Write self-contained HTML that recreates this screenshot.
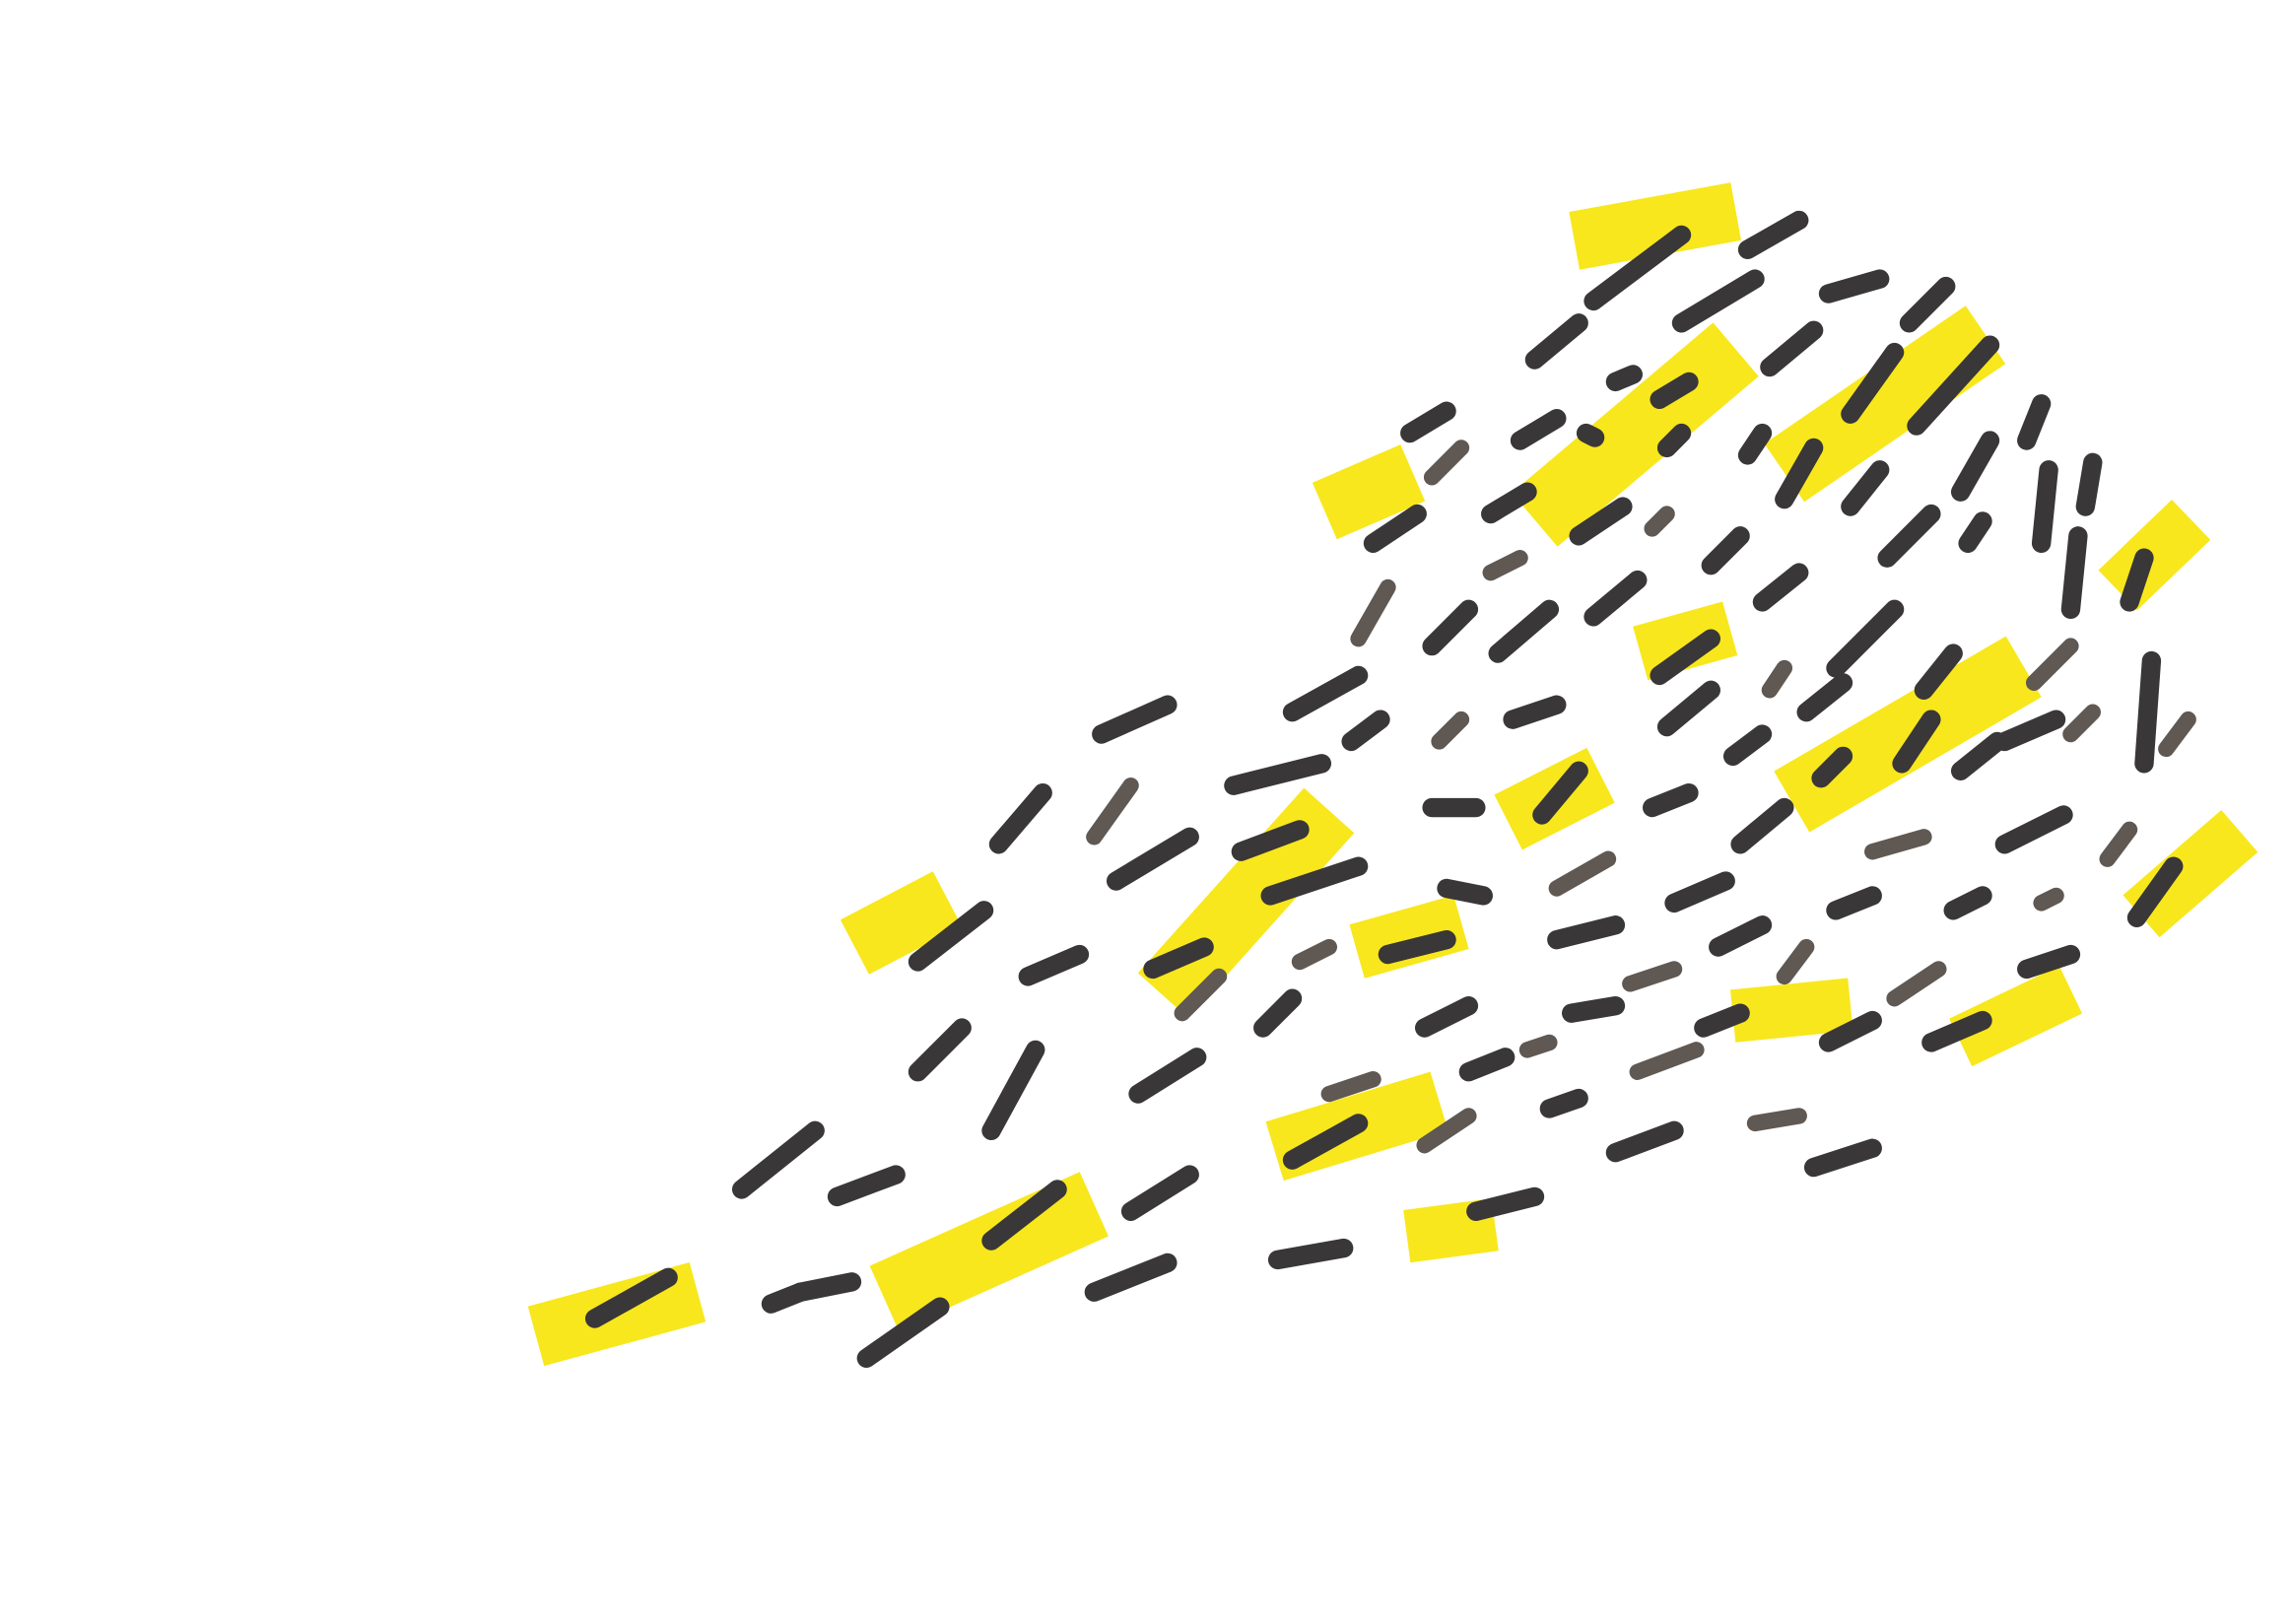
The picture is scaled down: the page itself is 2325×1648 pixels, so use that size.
<!DOCTYPE html>
<html><head><meta charset="utf-8"><style>
html,body{margin:0;padding:0;background:#fff;width:2325px;height:1648px;overflow:hidden}
svg{display:block}
</style></head><body>
<svg width="2325" height="1648" viewBox="0 0 1560 1106" preserveAspectRatio="none" xmlns="http://www.w3.org/2000/svg">
<rect width="1560" height="1106" fill="#fff"/>
<g stroke="#f8e71c" stroke-linecap="butt" fill="none">
<line x1="1072" y1="164" x2="1182" y2="144" stroke-width="40"/>
<line x1="1045" y1="354" x2="1182" y2="238" stroke-width="48"/>
<line x1="902" y1="348" x2="962" y2="322" stroke-width="42"/>
<line x1="1215" y1="322" x2="1352" y2="228" stroke-width="48"/>
<line x1="1442" y1="402" x2="1492" y2="354" stroke-width="38"/>
<line x1="1117" y1="445" x2="1178" y2="428" stroke-width="38"/>
<line x1="1220" y1="546" x2="1378" y2="454" stroke-width="48"/>
<line x1="1027" y1="560" x2="1090" y2="528" stroke-width="42"/>
<line x1="1458" y1="624" x2="1525" y2="566" stroke-width="38"/>
<line x1="582" y1="645" x2="645" y2="612" stroke-width="42"/>
<line x1="792" y1="678" x2="905" y2="552" stroke-width="46"/>
<line x1="924" y1="648" x2="995" y2="628" stroke-width="38"/>
<line x1="1180" y1="692" x2="1260" y2="684" stroke-width="36"/>
<line x1="1335" y1="710" x2="1410" y2="674" stroke-width="36"/>
<line x1="868" y1="784" x2="980" y2="750" stroke-width="42"/>
<line x1="958" y1="842" x2="1018" y2="834" stroke-width="36"/>
<line x1="602" y1="884" x2="745" y2="820" stroke-width="48"/>
<line x1="365" y1="910" x2="475" y2="880" stroke-width="42"/>
</g>
<g stroke="#393737" stroke-width="13" stroke-linecap="round" fill="none">
<line x1="1085" y1="205" x2="1145" y2="160"/><line x1="1190" y1="170" x2="1225" y2="150"/>
<line x1="1045" y1="245" x2="1075" y2="220"/><line x1="1145" y1="220" x2="1195" y2="190"/>
<line x1="1245" y1="200" x2="1280" y2="190"/><line x1="1300" y1="220" x2="1325" y2="195"/>
<line x1="1205" y1="250" x2="1235" y2="225"/><line x1="1100" y1="260" x2="1112" y2="255"/>
<line x1="960" y1="295" x2="985" y2="280"/><line x1="1035" y1="300" x2="1060" y2="285"/>
<line x1="1080" y1="295" x2="1086" y2="298"/><line x1="1130" y1="272" x2="1150" y2="260"/>
<line x1="1260" y1="282" x2="1290" y2="240"/><line x1="1305" y1="290" x2="1355" y2="235"/>
<line x1="1190" y1="310" x2="1200" y2="295"/><line x1="1135" y1="305" x2="1145" y2="295"/>
<line x1="1215" y1="340" x2="1235" y2="305"/><line x1="1260" y1="345" x2="1280" y2="320"/>
<line x1="1335" y1="335" x2="1355" y2="300"/><line x1="1380" y1="300" x2="1390" y2="275"/>
<line x1="1015" y1="350" x2="1040" y2="335"/><line x1="935" y1="370" x2="965" y2="350"/>
<line x1="1075" y1="365" x2="1105" y2="345"/><line x1="1165" y1="385" x2="1185" y2="365"/>
<line x1="1285" y1="380" x2="1315" y2="350"/><line x1="1340" y1="370" x2="1350" y2="355"/>
<line x1="1390" y1="370" x2="1395" y2="320"/><line x1="1420" y1="345" x2="1425" y2="315"/>
<line x1="975" y1="440" x2="1000" y2="415"/><line x1="1020" y1="445" x2="1055" y2="415"/>
<line x1="1085" y1="420" x2="1115" y2="395"/><line x1="1200" y1="410" x2="1225" y2="390"/>
<line x1="1410" y1="415" x2="1415" y2="365"/><line x1="1450" y1="410" x2="1460" y2="380"/>
<line x1="1130" y1="460" x2="1165" y2="435"/><line x1="1250" y1="455" x2="1290" y2="415"/>
<line x1="1310" y1="470" x2="1330" y2="445"/><line x1="750" y1="500" x2="795" y2="480"/>
<line x1="880" y1="485" x2="925" y2="460"/><line x1="1135" y1="495" x2="1165" y2="470"/>
<line x1="1230" y1="485" x2="1255" y2="465"/><line x1="920" y1="505" x2="940" y2="490"/>
<line x1="1030" y1="490" x2="1060" y2="480"/><line x1="1180" y1="515" x2="1200" y2="500"/>
<line x1="1295" y1="520" x2="1315" y2="490"/><line x1="1335" y1="525" x2="1360" y2="505"/>
<line x1="1365" y1="505" x2="1400" y2="490"/><line x1="1460" y1="520" x2="1465" y2="450"/>
<line x1="680" y1="575" x2="710" y2="540"/><line x1="840" y1="535" x2="900" y2="520"/>
<line x1="1050" y1="555" x2="1075" y2="525"/><line x1="1125" y1="550" x2="1150" y2="540"/>
<line x1="1185" y1="575" x2="1215" y2="550"/><line x1="1240" y1="530" x2="1255" y2="515"/>
<line x1="975" y1="550" x2="1005" y2="550"/><line x1="760" y1="600" x2="810" y2="570"/>
<line x1="845" y1="580" x2="885" y2="565"/><line x1="1365" y1="575" x2="1405" y2="555"/>
<line x1="625" y1="655" x2="670" y2="620"/><line x1="865" y1="610" x2="925" y2="590"/>
<line x1="985" y1="605" x2="1010" y2="610"/><line x1="1140" y1="615" x2="1175" y2="600"/>
<line x1="1250" y1="620" x2="1275" y2="610"/><line x1="1330" y1="620" x2="1350" y2="610"/>
<line x1="1455" y1="625" x2="1480" y2="590"/><line x1="700" y1="665" x2="735" y2="650"/>
<line x1="785" y1="660" x2="820" y2="645"/><line x1="945" y1="650" x2="985" y2="640"/>
<line x1="1060" y1="640" x2="1100" y2="630"/><line x1="1170" y1="645" x2="1200" y2="630"/>
<line x1="1380" y1="660" x2="1410" y2="650"/><line x1="860" y1="700" x2="880" y2="680"/>
<line x1="970" y1="700" x2="1000" y2="685"/><line x1="1070" y1="690" x2="1100" y2="685"/>
<line x1="1160" y1="700" x2="1185" y2="690"/><line x1="1245" y1="710" x2="1275" y2="695"/>
<line x1="1315" y1="710" x2="1350" y2="695"/><line x1="625" y1="730" x2="655" y2="700"/>
<line x1="675" y1="770" x2="705" y2="715"/><line x1="775" y1="745" x2="815" y2="720"/>
<line x1="1000" y1="730" x2="1025" y2="720"/><line x1="880" y1="790" x2="925" y2="765"/>
<line x1="1055" y1="755" x2="1075" y2="748"/><line x1="505" y1="810" x2="555" y2="770"/>
<line x1="570" y1="815" x2="610" y2="800"/><line x1="1100" y1="785" x2="1140" y2="770"/>
<line x1="1235" y1="795" x2="1275" y2="782"/><line x1="675" y1="845" x2="720" y2="810"/>
<line x1="770" y1="825" x2="810" y2="800"/><line x1="1005" y1="825" x2="1045" y2="815"/>
<line x1="870" y1="858" x2="915" y2="850"/><line x1="745" y1="880" x2="795" y2="860"/>
<line x1="525" y1="888" x2="545" y2="880"/><line x1="545" y1="880" x2="580" y2="873"/>
<line x1="590" y1="925" x2="640" y2="890"/><line x1="405" y1="898" x2="455" y2="870"/>
</g>
<g stroke="#5f5853" stroke-width="11" stroke-linecap="round" fill="none">
<line x1="975" y1="325" x2="995" y2="305"/><line x1="1125" y1="360" x2="1135" y2="350"/>
<line x1="1015" y1="390" x2="1035" y2="380"/><line x1="925" y1="435" x2="945" y2="400"/>
<line x1="1385" y1="465" x2="1410" y2="440"/><line x1="1205" y1="470" x2="1215" y2="455"/>
<line x1="980" y1="505" x2="995" y2="490"/><line x1="1410" y1="500" x2="1425" y2="485"/>
<line x1="1475" y1="510" x2="1490" y2="490"/><line x1="745" y1="570" x2="770" y2="535"/>
<line x1="1060" y1="605" x2="1095" y2="585"/><line x1="1275" y1="580" x2="1310" y2="570"/>
<line x1="1435" y1="585" x2="1450" y2="565"/><line x1="1390" y1="615" x2="1400" y2="610"/>
<line x1="885" y1="655" x2="905" y2="645"/><line x1="1215" y1="665" x2="1230" y2="645"/>
<line x1="1110" y1="670" x2="1140" y2="660"/><line x1="1290" y1="680" x2="1320" y2="660"/>
<line x1="805" y1="690" x2="830" y2="665"/><line x1="1040" y1="715" x2="1055" y2="710"/>
<line x1="1115" y1="730" x2="1155" y2="715"/><line x1="905" y1="745" x2="935" y2="735"/>
<line x1="970" y1="780" x2="1000" y2="760"/><line x1="1195" y1="765" x2="1225" y2="760"/>
</g>
</svg>
</body></html>
